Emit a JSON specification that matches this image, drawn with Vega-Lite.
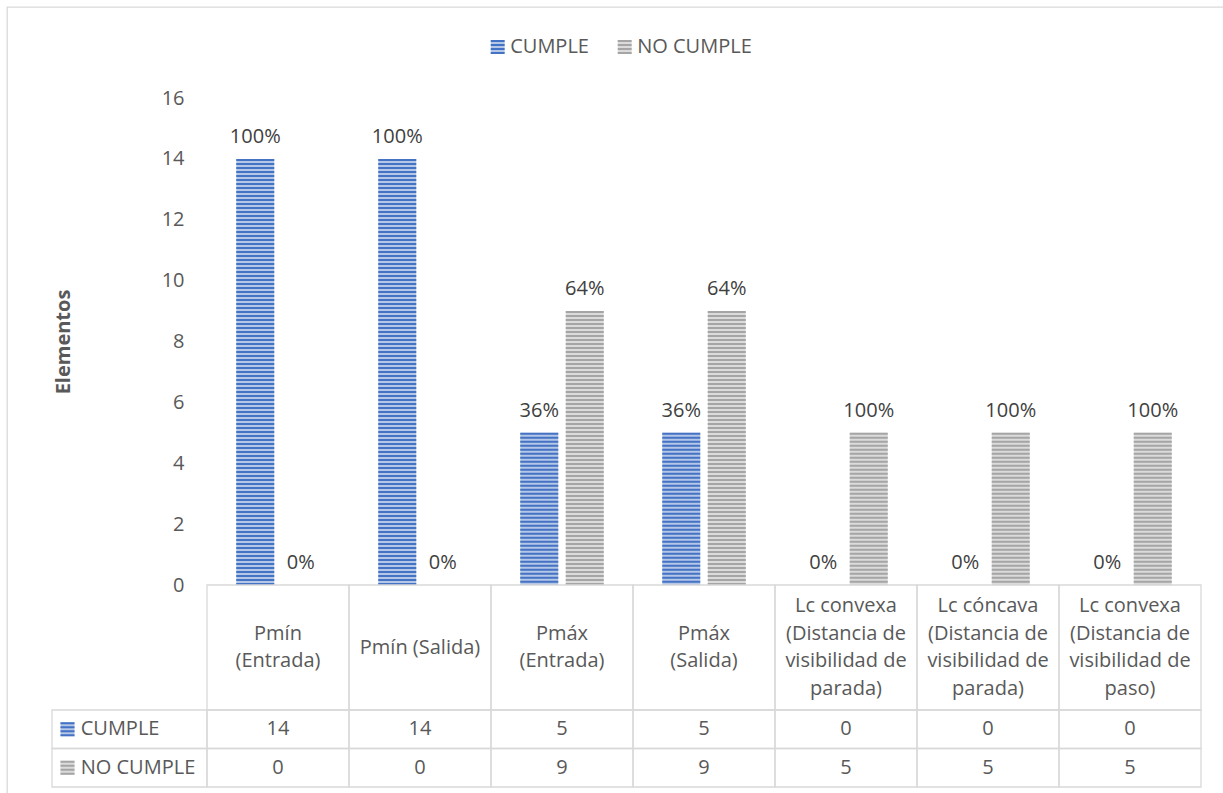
{
  "$schema": "https://vega.github.io/schema/vega-lite/v6.json",
  "width": 1217,
  "height": 800,
  "autosize": "none",
  "padding": {"left": 7, "top": 7, "right": 0, "bottom": 0},
  "background": "white",
  "config": {
    "view": {"stroke": "#d9d9d9", "strokeWidth": 1.3},
    "font": "Open Sans"
  },
  "datasets": {
    "valores": [
      {"categoria": "Pmín (Entrada)", "serie": "CUMPLE", "valor": 14, "pct": 1},
      {"categoria": "Pmín (Entrada)", "serie": "NO CUMPLE", "valor": 0, "pct": 0},
      {"categoria": "Pmín (Salida)", "serie": "CUMPLE", "valor": 14, "pct": 1},
      {"categoria": "Pmín (Salida)", "serie": "NO CUMPLE", "valor": 0, "pct": 0},
      {"categoria": "Pmáx (Entrada)", "serie": "CUMPLE", "valor": 5, "pct": 0.36},
      {"categoria": "Pmáx (Entrada)", "serie": "NO CUMPLE", "valor": 9, "pct": 0.64},
      {"categoria": "Pmáx (Salida)", "serie": "CUMPLE", "valor": 5, "pct": 0.36},
      {"categoria": "Pmáx (Salida)", "serie": "NO CUMPLE", "valor": 9, "pct": 0.64},
      {"categoria": "Lc convexa (Distancia de visibilidad de parada)", "serie": "CUMPLE", "valor": 0, "pct": 0},
      {"categoria": "Lc convexa (Distancia de visibilidad de parada)", "serie": "NO CUMPLE", "valor": 5, "pct": 1},
      {"categoria": "Lc cóncava (Distancia de visibilidad de parada)", "serie": "CUMPLE", "valor": 0, "pct": 0},
      {"categoria": "Lc cóncava (Distancia de visibilidad de parada)", "serie": "NO CUMPLE", "valor": 5, "pct": 1},
      {"categoria": "Lc convexa (Distancia de visibilidad de paso)", "serie": "CUMPLE", "valor": 0, "pct": 0},
      {"categoria": "Lc convexa (Distancia de visibilidad de paso)", "serie": "NO CUMPLE", "valor": 5, "pct": 1}
    ],
    "categorias": [
      {"categoria": "Pmín (Entrada)", "etiqueta": "Pmín\n(Entrada)"},
      {"categoria": "Pmín (Salida)", "etiqueta": "Pmín (Salida)"},
      {"categoria": "Pmáx (Entrada)", "etiqueta": "Pmáx\n(Entrada)"},
      {"categoria": "Pmáx (Salida)", "etiqueta": "Pmáx\n(Salida)"},
      {"categoria": "Lc convexa (Distancia de visibilidad de parada)", "etiqueta": "Lc convexa\n(Distancia de\nvisibilidad de\nparada)"},
      {"categoria": "Lc cóncava (Distancia de visibilidad de parada)", "etiqueta": "Lc cóncava\n(Distancia de\nvisibilidad de\nparada)"},
      {"categoria": "Lc convexa (Distancia de visibilidad de paso)", "etiqueta": "Lc convexa\n(Distancia de\nvisibilidad de\npaso)"}
    ],
    "series": [
      {"serie": "CUMPLE"},
      {"serie": "NO CUMPLE"}
    ]
  },
  "resolve": {
    "scale": {"x": "independent", "y": "independent"},
    "axis": {"x": "independent", "y": "independent"}
  },
  "layer": [
    {
      "data": {"name": "valores"},
      "encoding": {
        "x": {
          "field": "categoria", "type": "nominal",
          "scale": {
            "domain": ["Pmín (Entrada)", "Pmín (Salida)", "Pmáx (Entrada)", "Pmáx (Salida)", "Lc convexa (Distancia de visibilidad de parada)", "Lc cóncava (Distancia de visibilidad de parada)", "Lc convexa (Distancia de visibilidad de paso)"],
            "range": [200, 1194], "paddingInner": 0, "paddingOuter": 0
          },
          "axis": null
        },
        "xOffset": {
          "field": "serie", "type": "nominal",
          "scale": {"domain": ["CUMPLE", "NO CUMPLE"], "paddingInner": 0.165, "paddingOuter": 0.643}
        },
        "y": {
          "field": "valor", "type": "quantitative",
          "scale": {"domain": [0, 16], "range": [578, 91], "nice": false},
          "axis": {
            "orient": "left", "offset": -200,
            "values": [0, 2, 4, 6, 8, 10, 12, 14, 16],
            "domain": false, "ticks": false, "grid": false,
            "labelFontSize": 20, "labelColor": "#595959", "labelPadding": 23, "labelFont": "Open Sans",
            "title": "Elementos", "titleFontSize": 20, "titleFontWeight": "bold", "titleColor": "#595959",
            "titleFont": "Open Sans", "titlePadding": 88
          }
        }
      },
      "layer": [
        {
          "mark": {"type": "bar"},
          "encoding": {
            "fill": {"condition": {"test": "datum.serie === 'CUMPLE'", "value": "#b4c7e7"}, "value": "#dbdbdb"}
          }
        },
        {
          "mark": {"type": "rule", "strokeWidth": 38, "strokeDash": [2, 2], "strokeCap": "butt"},
          "encoding": {
            "y2": {"datum": 0},
            "color": {
              "field": "serie", "type": "nominal",
              "scale": {"domain": ["CUMPLE", "NO CUMPLE"], "range": ["#4472c4", "#a5a5a5"]},
              "legend": {
                "orient": "none", "legendX": 480.7, "legendY": 30, "direction": "horizontal",
                "title": null, "padding": 0,
                "symbolType": "square",
                "symbolSize": 196, "symbolStrokeWidth": 0, "symbolOpacity": 1,
                "labelFontSize": 20, "labelColor": "#595959", "labelFont": "Open Sans",
                "labelOffset": 2.5, "columnPadding": 25,
                "encode": {
                  "symbols": {
                    "update": {
                      "fill": {"signal": "datum.value === 'CUMPLE' ? {gradient: 'linear', x1: 0, y1: 0, x2: 0, y2: 1, stops: [{offset: 0, color: '#4472c4'}, {offset: 0.143, color: '#4472c4'}, {offset: 0.143, color: '#b4c7e7'}, {offset: 0.286, color: '#b4c7e7'}, {offset: 0.286, color: '#4472c4'}, {offset: 0.429, color: '#4472c4'}, {offset: 0.429, color: '#b4c7e7'}, {offset: 0.571, color: '#b4c7e7'}, {offset: 0.571, color: '#4472c4'}, {offset: 0.714, color: '#4472c4'}, {offset: 0.714, color: '#b4c7e7'}, {offset: 0.857, color: '#b4c7e7'}, {offset: 0.857, color: '#4472c4'}, {offset: 1, color: '#4472c4'}]} : {gradient: 'linear', x1: 0, y1: 0, x2: 0, y2: 1, stops: [{offset: 0, color: '#a5a5a5'}, {offset: 0.143, color: '#a5a5a5'}, {offset: 0.143, color: '#dbdbdb'}, {offset: 0.286, color: '#dbdbdb'}, {offset: 0.286, color: '#a5a5a5'}, {offset: 0.429, color: '#a5a5a5'}, {offset: 0.429, color: '#dbdbdb'}, {offset: 0.571, color: '#dbdbdb'}, {offset: 0.571, color: '#a5a5a5'}, {offset: 0.714, color: '#a5a5a5'}, {offset: 0.714, color: '#dbdbdb'}, {offset: 0.857, color: '#dbdbdb'}, {offset: 0.857, color: '#a5a5a5'}, {offset: 1, color: '#a5a5a5'}]}"},
                      "stroke": {"value": "transparent"}
                    }
                  }
                }
              }
            }
          }
        },
        {
          "mark": {"type": "text", "baseline": "alphabetic", "dy": -16, "fontSize": 20, "color": "#404040", "font": "Open Sans"},
          "encoding": {
            "text": {"field": "pct", "type": "quantitative", "format": ".0%"}
          }
        }
      ]
    },
    {
      "data": {"name": "categorias"},
      "encoding": {
        "x": {
          "field": "categoria", "type": "nominal",
          "scale": {
            "domain": ["Pmín (Entrada)", "Pmín (Salida)", "Pmáx (Entrada)", "Pmáx (Salida)", "Lc convexa (Distancia de visibilidad de parada)", "Lc cóncava (Distancia de visibilidad de parada)", "Lc convexa (Distancia de visibilidad de paso)"],
            "range": [200, 1194], "paddingInner": 0, "paddingOuter": 0
          },
          "axis": null
        },
        "y": {
          "datum": "encabezado", "type": "nominal",
          "scale": {"domain": ["encabezado"], "range": [578, 703], "paddingInner": 0, "paddingOuter": 0},
          "axis": null
        },
        "text": {"field": "etiqueta", "type": "nominal"}
      },
      "layer": [
        {"mark": {"type": "rect", "filled": false, "stroke": "#d9d9d9", "strokeWidth": 1.3}},
        {
          "transform": [{"filter": "split(datum.etiqueta, '\\n').length === 1"}],
          "mark": {"type": "text", "lineBreak": "\n", "lineHeight": 27.5, "fontSize": 20, "color": "#595959", "baseline": "middle", "font": "Open Sans"}
        },
        {
          "transform": [{"filter": "split(datum.etiqueta, '\\n').length === 2"}],
          "mark": {"type": "text", "lineBreak": "\n", "lineHeight": 27.5, "fontSize": 20, "color": "#595959", "baseline": "middle", "dy": -13.75, "font": "Open Sans"}
        },
        {
          "transform": [{"filter": "split(datum.etiqueta, '\\n').length === 4"}],
          "mark": {"type": "text", "lineBreak": "\n", "lineHeight": 27.5, "fontSize": 20, "color": "#595959", "baseline": "middle", "dy": -41.25, "font": "Open Sans"}
        }
      ]
    },
    {
      "data": {"name": "valores"},
      "encoding": {
        "x": {
          "field": "categoria", "type": "nominal",
          "scale": {
            "domain": ["Pmín (Entrada)", "Pmín (Salida)", "Pmáx (Entrada)", "Pmáx (Salida)", "Lc convexa (Distancia de visibilidad de parada)", "Lc cóncava (Distancia de visibilidad de parada)", "Lc convexa (Distancia de visibilidad de paso)"],
            "range": [200, 1194], "paddingInner": 0, "paddingOuter": 0
          },
          "axis": null
        },
        "y": {
          "field": "serie", "type": "nominal",
          "scale": {"domain": ["CUMPLE", "NO CUMPLE"], "range": [703, 780], "paddingInner": 0, "paddingOuter": 0},
          "axis": null
        }
      },
      "layer": [
        {"mark": {"type": "rect", "filled": false, "stroke": "#d9d9d9", "strokeWidth": 1.3}},
        {
          "mark": {"type": "text", "fontSize": 20, "color": "#595959", "baseline": "middle", "font": "Open Sans"},
          "encoding": {"text": {"field": "valor", "type": "quantitative"}}
        }
      ]
    },
    {
      "data": {"name": "series"},
      "encoding": {
        "x": {
          "datum": "leyenda", "type": "nominal",
          "scale": {"domain": ["leyenda"], "range": [45, 200], "paddingInner": 0, "paddingOuter": 0},
          "axis": null
        },
        "y": {
          "field": "serie", "type": "nominal",
          "scale": {"domain": ["CUMPLE", "NO CUMPLE"], "range": [703, 780], "paddingInner": 0, "paddingOuter": 0},
          "axis": null
        }
      },
      "layer": [
        {"mark": {"type": "rect", "filled": false, "stroke": "#d9d9d9", "strokeWidth": 1.3}},
        {
          "mark": {"type": "point", "shape": "square", "filled": true, "size": 196, "opacity": 1, "xOffset": 15.5},
          "encoding": {
            "x": {"datum": "leyenda", "type": "nominal", "bandPosition": 0},
            "fill": {"condition": {"test": "datum.serie === 'CUMPLE'", "value": "#b4c7e7"}, "value": "#dbdbdb"}
          }
        },
        {
          "mark": {"type": "point", "shape": "M-1,-1H1V-0.714H-1Z M-1,-0.429H1V-0.143H-1Z M-1,0.143H1V0.429H-1Z M-1,0.714H1V1H-1Z", "filled": true, "size": 196, "opacity": 1, "xOffset": 15.5},
          "encoding": {
            "x": {"datum": "leyenda", "type": "nominal", "bandPosition": 0},
            "fill": {"condition": {"test": "datum.serie === 'CUMPLE'", "value": "#4472c4"}, "value": "#a5a5a5"}
          }
        },
        {
          "mark": {"type": "text", "align": "left", "baseline": "middle", "dx": 28.7, "fontSize": 20, "color": "#595959", "font": "Open Sans"},
          "encoding": {
            "x": {"datum": "leyenda", "type": "nominal", "bandPosition": 0},
            "text": {"field": "serie", "type": "nominal"}
          }
        }
      ]
    }
  ]
}
